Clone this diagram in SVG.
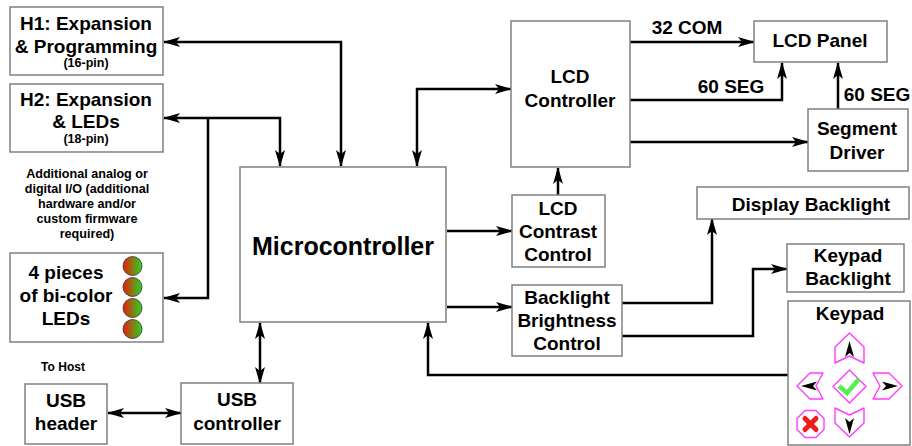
<svg xmlns="http://www.w3.org/2000/svg" width="912" height="446" viewBox="0 0 912 446">
<style>
.box{fill:#fff;stroke:#808080;stroke-width:1.5}
.t{font-family:"Liberation Sans",Arial,sans-serif;font-weight:bold;fill:#000;text-anchor:middle}
.f19{font-size:19px}
.f11{font-size:12.5px}
.f12{font-size:12.6px}
.c{fill:none;stroke:#000;stroke-width:2.5}
.key{fill:#fff;stroke:#ff3cff;stroke-width:1.4;stroke-linejoin:round}
.led{stroke:#333;stroke-width:0.8;fill:url(#ledg)}
</style>
<defs>
<marker id="a" viewBox="0 0 17 10" refX="16" refY="5" markerWidth="17" markerHeight="10" markerUnits="userSpaceOnUse" orient="auto-start-reverse">
<path d="M0,0 L17,5 L0,10 L4,5 Z" fill="#000"/>
</marker>
<linearGradient id="ledg" x1="0" y1="0" x2="1" y2="0">
<stop offset="0" stop-color="#ee1a0a"/>
<stop offset="1" stop-color="#22d822"/>
</linearGradient>
</defs>
<rect width="912" height="446" fill="#fff"/>

<g id="connectors">
<path class="c" d="M341,166 L341,42 L164,42" marker-start="url(#a)" marker-end="url(#a)"/>
<path class="c" d="M280,166 L280,118 L164,118" marker-start="url(#a)" marker-end="url(#a)"/>
<path class="c" d="M208,118 L208,298 L164,298" marker-end="url(#a)"/>
<path class="c" d="M417,166 L417,89 L511,89" marker-start="url(#a)" marker-end="url(#a)"/>
<path class="c" d="M447,231 L512,231" marker-end="url(#a)"/>
<path class="c" d="M447,307 L512,307" marker-end="url(#a)"/>
<path class="c" d="M558,195 L558,168" marker-end="url(#a)"/>
<path class="c" d="M630,42 L754,42" marker-end="url(#a)"/>
<path class="c" d="M630,100 L782,100 L782,63" marker-end="url(#a)"/>
<path class="c" d="M630,142 L808,142" marker-end="url(#a)"/>
<path class="c" d="M838,109 L838,63" marker-end="url(#a)"/>
<path class="c" d="M622,303 L712,303 L712,219" marker-end="url(#a)"/>
<path class="c" d="M622,336 L753,336 L753,269 L787,269" marker-end="url(#a)"/>
<path class="c" d="M788,375 L428,375 L428,323" marker-end="url(#a)"/>
<path class="c" d="M260,323 L260,383" marker-start="url(#a)" marker-end="url(#a)"/>
<path class="c" d="M108,413 L181,413" marker-start="url(#a)" marker-end="url(#a)"/>
</g>

<g id="h1">
<rect class="box" x="10" y="7" width="153" height="68"/>
<text class="t f19" x="86" y="30">H1: Expansion</text>
<text class="t f19" x="86" y="53">&amp; Programming</text>
<text class="t f11" x="86" y="67">(16-pin)</text>
</g>

<g id="h2">
<rect class="box" x="10" y="84" width="153" height="68"/>
<text class="t f19" x="86" y="106">H2: Expansion</text>
<text class="t f19" x="86" y="128">&amp; LEDs</text>
<text class="t f11" x="86" y="143">(18-pin)</text>
</g>

<g id="note">
<text class="t f12" x="87" y="177.5">Additional analog or</text>
<text class="t f12" x="87" y="192.7">digital I/O (additional</text>
<text class="t f12" x="87" y="207.9">hardware and/or</text>
<text class="t f12" x="87" y="223.1">custom firmware</text>
<text class="t f12" x="87" y="238.3">required)</text>
</g>

<g id="leds">
<rect class="box" x="10" y="253" width="153" height="89"/>
<text class="t f19" x="66" y="279">4 pieces</text>
<text class="t f19" x="66" y="302">of bi-color</text>
<text class="t f19" x="66" y="325">LEDs</text>
<circle class="led" cx="132.5" cy="266" r="9.5"/>
<circle class="led" cx="132.5" cy="287" r="9.5"/>
<circle class="led" cx="132.5" cy="308" r="9.5"/>
<circle class="led" cx="132.5" cy="329" r="9.5"/>
</g>

<g id="tohost">
<text class="t" style="font-size:12px" x="63" y="371">To Host</text>
</g>

<g id="usbheader">
<rect class="box" x="25" y="384" width="82" height="60"/>
<text class="t f19" x="66" y="407">USB</text>
<text class="t f19" x="66" y="430">header</text>
</g>

<g id="usbcontroller">
<rect class="box" x="181" y="383" width="112" height="61"/>
<text class="t f19" x="237" y="406">USB</text>
<text class="t f19" x="237" y="430">controller</text>
</g>

<g id="micro">
<rect class="box" x="240" y="167" width="206" height="155"/>
<text class="t" style="font-size:25px" x="343" y="255">Microcontroller</text>
</g>

<g id="lcdcontroller">
<rect class="box" x="511" y="21" width="119" height="146"/>
<text class="t f19" x="570" y="83">LCD</text>
<text class="t f19" x="570" y="107">Controller</text>
</g>

<g id="lcdpanel">
<rect class="box" x="754" y="21" width="133" height="41"/>
<text class="t f19" x="820" y="47">LCD Panel</text>
</g>

<g id="segdriver">
<rect class="box" x="808" y="109" width="100" height="62"/>
<text class="t f19" x="857" y="135">Segment</text>
<text class="t f19" x="857" y="159">Driver</text>
</g>

<g id="labels">
<text class="t f19" x="687" y="34">32 COM</text>
<text class="t f19" x="731" y="93">60 SEG</text>
<text class="t f19" x="877" y="101">60 SEG</text>
</g>

<g id="contrast">
<rect class="box" x="512" y="195" width="93" height="72"/>
<text class="t f19" x="558" y="215">LCD</text>
<text class="t f19" x="558" y="238">Contrast</text>
<text class="t f19" x="558" y="261">Control</text>
</g>

<g id="brightness">
<rect class="box" x="512" y="285" width="110" height="71"/>
<text class="t f19" x="567" y="304">Backlight</text>
<text class="t f19" x="567" y="327">Brightness</text>
<text class="t f19" x="567" y="350">Control</text>
</g>

<g id="displaybacklight">
<rect class="box" x="697" y="187" width="212" height="32"/>
<text class="t f19" x="811" y="211">Display Backlight</text>
</g>

<g id="keypadbacklight">
<rect class="box" x="787" y="244" width="117" height="48"/>
<text class="t f19" x="848" y="262">Keypad</text>
<text class="t f19" x="848" y="285">Backlight</text>
</g>

<g id="keypad">
<rect class="box" x="788" y="301" width="122" height="144"/>
<text class="t f19" x="850" y="320">Keypad</text>
<path class="key" d="M849.5,333 L864,347 L864,363 L849.5,356 L835,363 L835,347 Z"/>
<path d="M849.5,341 L854,357 L849.5,353 L845,357 Z" fill="#000"/>
<path class="key" d="M835,408 L849.5,415 L864,408 L864,423 L849.5,437 L835,423 Z"/>
<path d="M849.5,434 L854,418 L849.5,422 L845,418 Z" fill="#000"/>
<path class="key" d="M797,386 L810,373 L823,373 L816,386 L823,399 L810,399 Z"/>
<path d="M801,386 L817,381.5 L813,386 L817,390.5 Z" fill="#000"/>
<path class="key" d="M902,386 L889,373 L873,373 L880,386 L873,399 L889,399 Z"/>
<path d="M898,386 L882,381.5 L886,386 L882,390.5 Z" fill="#000"/>
<path class="key" d="M849.5,370 L866,386.5 L849.5,403 L833,386.5 Z"/>
<path d="M839,386 L847,393 L859,379" fill="none" stroke="#55ee55" stroke-width="4.5"/>
<path class="key" d="M805,410.5 L816,410.5 L824,418.5 L824,429.5 L816,437.5 L805,437.5 L797,429.5 L797,418.5 Z"/>
<path d="M805,418.5 L816,429.5 M816,418.5 L805,429.5" stroke="#ee1c1c" stroke-width="5" stroke-linecap="round"/>
</g>
</svg>
